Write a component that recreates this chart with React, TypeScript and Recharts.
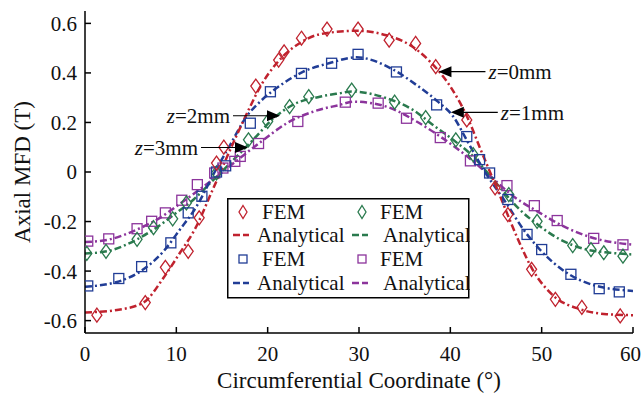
import React from 'react'
import { ComposedChart, Line, Scatter, XAxis, YAxis, Legend, ReferenceDot } from 'recharts'

type Pt = { x: number; y: number }

const xTicks = [0, 10, 20, 30, 40, 50, 60]
const topTicks = [10, 20, 30, 40, 50]
const yTicks = [-0.6, -0.4, -0.2, 0, 0.2, 0.4, 0.6]

// FEM samples
const femZ0: Pt[] = [
  { x: 1.3, y: -0.578 }, { x: 6.6, y: -0.527 }, { x: 8.8, y: -0.385 }, { x: 11.3, y: -0.32 },
  { x: 12.5, y: -0.185 }, { x: 14.4, y: 0.036 }, { x: 15.2, y: 0.1 }, { x: 18.7, y: 0.347 },
  { x: 21.2, y: 0.452 }, { x: 21.8, y: 0.485 }, { x: 23.7, y: 0.54 }, { x: 26.5, y: 0.577 },
  { x: 29.9, y: 0.577 }, { x: 33.3, y: 0.532 }, { x: 36.2, y: 0.519 }, { x: 38.4, y: 0.425 },
  { x: 41.8, y: 0.21 }, { x: 44.9, y: -0.064 }, { x: 46.3, y: -0.172 }, { x: 48.9, y: -0.393 },
  { x: 51.5, y: -0.514 }, { x: 54.4, y: -0.547 }, { x: 58.6, y: -0.581 },
]
const femZ1: Pt[] = [
  { x: 0.3, y: -0.46 }, { x: 3.7, y: -0.43 }, { x: 6.2, y: -0.382 }, { x: 9.4, y: -0.286 },
  { x: 11.3, y: -0.165 }, { x: 12.8, y: -0.098 }, { x: 14.4, y: 0.0 }, { x: 15.4, y: 0.025 },
  { x: 18.1, y: 0.197 }, { x: 20.3, y: 0.324 }, { x: 23.7, y: 0.398 }, { x: 27.0, y: 0.439 },
  { x: 29.9, y: 0.475 }, { x: 34.1, y: 0.404 }, { x: 38.5, y: 0.271 }, { x: 41.8, y: 0.143 },
  { x: 43.2, y: 0.05 }, { x: 44.3, y: -0.004 }, { x: 46.3, y: -0.111 }, { x: 48.4, y: -0.252 },
  { x: 50.0, y: -0.313 }, { x: 53.2, y: -0.413 }, { x: 56.3, y: -0.471 }, { x: 58.5, y: -0.484 },
]
const femZ2: Pt[] = [
  { x: 0.2, y: -0.329 }, { x: 2.3, y: -0.32 }, { x: 5.7, y: -0.272 }, { x: 7.5, y: -0.225 },
  { x: 9.6, y: -0.189 }, { x: 11.1, y: -0.125 }, { x: 14.4, y: -0.004 }, { x: 17.9, y: 0.13 },
  { x: 20.0, y: 0.204 }, { x: 22.4, y: 0.264 }, { x: 24.5, y: 0.304 }, { x: 29.2, y: 0.331 },
  { x: 33.9, y: 0.282 }, { x: 37.3, y: 0.22 }, { x: 40.6, y: 0.13 }, { x: 42.5, y: 0.07 },
  { x: 46.4, y: -0.091 }, { x: 49.5, y: -0.199 }, { x: 53.4, y: -0.297 }, { x: 55.4, y: -0.313 },
  { x: 56.8, y: -0.326 }, { x: 58.9, y: -0.34 },
]
const femZ3: Pt[] = [
  { x: 0.3, y: -0.279 }, { x: 2.6, y: -0.27 }, { x: 5.7, y: -0.229 }, { x: 7.3, y: -0.199 },
  { x: 8.8, y: -0.165 }, { x: 10.6, y: -0.114 }, { x: 12.3, y: -0.051 }, { x: 14.2, y: -0.004 },
  { x: 15.1, y: 0.016 }, { x: 16.4, y: 0.043 }, { x: 17.0, y: 0.063 }, { x: 19.0, y: 0.115 },
  { x: 23.3, y: 0.204 }, { x: 28.5, y: 0.282 }, { x: 32.1, y: 0.278 }, { x: 35.2, y: 0.217 },
  { x: 38.9, y: 0.139 }, { x: 42.2, y: 0.045 }, { x: 46.2, y: -0.055 }, { x: 49.2, y: -0.136 },
  { x: 51.7, y: -0.196 }, { x: 55.7, y: -0.268 }, { x: 58.9, y: -0.294 },
]

// analytical curves
const fitZ0: Pt[] = [
  { x: 0, y: -0.567 }, { x: 3.5, y: -0.557 }, { x: 6.4, y: -0.527 }, { x: 8.6, y: -0.427 },
  { x: 10.4, y: -0.326 }, { x: 12, y: -0.233 }, { x: 14, y: -0.07 }, { x: 15.9, y: 0.09 },
  { x: 17.9, y: 0.25 }, { x: 19.2, y: 0.345 }, { x: 21, y: 0.44 }, { x: 23.5, y: 0.52 },
  { x: 25.7, y: 0.556 }, { x: 29.7, y: 0.57 }, { x: 33, y: 0.552 }, { x: 35.6, y: 0.512 },
  { x: 37.8, y: 0.445 }, { x: 40, y: 0.345 }, { x: 42, y: 0.21 }, { x: 43.3, y: 0.092 },
  { x: 44.7, y: -0.031 }, { x: 45.6, y: -0.111 }, { x: 47.3, y: -0.263 }, { x: 49.1, y: -0.4 },
  { x: 51.3, y: -0.5 }, { x: 54.2, y: -0.554 }, { x: 57.1, y: -0.574 }, { x: 60, y: -0.578 },
]
const fitZ1: Pt[] = [
  { x: 0, y: -0.463 }, { x: 3.5, y: -0.444 }, { x: 6.4, y: -0.393 }, { x: 8.6, y: -0.32 },
  { x: 10.4, y: -0.232 }, { x: 12.2, y: -0.14 }, { x: 14.2, y: 0 }, { x: 15.9, y: 0.11 },
  { x: 17.7, y: 0.225 }, { x: 19.2, y: 0.285 }, { x: 21.4, y: 0.35 }, { x: 23.9, y: 0.405 },
  { x: 26.8, y: 0.44 }, { x: 29.7, y: 0.463 }, { x: 33.8, y: 0.412 }, { x: 36.3, y: 0.351 },
  { x: 38.6, y: 0.285 }, { x: 40.3, y: 0.225 }, { x: 42.0, y: 0.115 }, { x: 43.8, y: 0 },
  { x: 46.2, y: -0.13 }, { x: 48, y: -0.232 }, { x: 49.8, y: -0.313 }, { x: 52.7, y: -0.406 },
  { x: 56, y: -0.46 }, { x: 60, y: -0.48 },
]
const fitZ2: Pt[] = [
  { x: 0, y: -0.329 }, { x: 2.4, y: -0.32 }, { x: 5.7, y: -0.272 }, { x: 7.8, y: -0.225 },
  { x: 10, y: -0.165 }, { x: 11.9, y: -0.111 }, { x: 13.7, y: -0.045 }, { x: 16.6, y: 0.062 },
  { x: 18.4, y: 0.13 }, { x: 20.6, y: 0.215 }, { x: 22.8, y: 0.272 }, { x: 25.7, y: 0.304 },
  { x: 27.9, y: 0.318 }, { x: 29.2, y: 0.325 }, { x: 33, y: 0.298 }, { x: 35.9, y: 0.251 },
  { x: 38.1, y: 0.19 }, { x: 40.3, y: 0.13 }, { x: 42.5, y: 0.063 }, { x: 44.7, y: -0.031 },
  { x: 47.6, y: -0.152 }, { x: 49.8, y: -0.219 }, { x: 52, y: -0.272 }, { x: 54.6, y: -0.31 },
  { x: 57.5, y: -0.326 }, { x: 60, y: -0.333 },
]
const fitZ3: Pt[] = [
  { x: 0, y: -0.283 }, { x: 2.7, y: -0.272 }, { x: 5.7, y: -0.232 }, { x: 8.2, y: -0.185 },
  { x: 10.4, y: -0.128 }, { x: 12.2, y: -0.08 }, { x: 14.2, y: -0.025 }, { x: 15.9, y: 0.025 },
  { x: 19.2, y: 0.12 }, { x: 22.1, y: 0.197 }, { x: 25, y: 0.244 }, { x: 27.9, y: 0.271 },
  { x: 29.4, y: 0.284 }, { x: 33, y: 0.264 }, { x: 36.3, y: 0.204 }, { x: 38.9, y: 0.143 },
  { x: 41.4, y: 0.076 }, { x: 44, y: -0.004 }, { x: 46.9, y: -0.098 }, { x: 49.8, y: -0.165 },
  { x: 52.7, y: -0.225 }, { x: 56, y: -0.27 }, { x: 60, y: -0.293 },
]

// arrow annotations: tip position, label, side of the text
const notes = [
  { x: 38.7, y: 0.405, z: '0mm', side: 'right' },
  { x: 40.05, y: 0.241, z: '1mm', side: 'right' },
  { x: 21.35, y: 0.227, z: '2mm', side: 'left' },
  { x: 17.85, y: 0.099, z: '3mm', side: 'left' },
]

const RED = '#c0222e'
const BLUE = '#213d96'
const GREEN = '#2a7a4e'
const PURPLE = '#8c349c'
const FONT = 'Liberation Serif, Times New Roman, DejaVu Serif, serif'
const DASH = '7 3 2 3'

const diamond = (color: string, w = 5, h = 7) => (p: any) => (
  <path
    d={`M${p.cx},${p.cy - h} L${p.cx + w},${p.cy} L${p.cx},${p.cy + h} L${p.cx - w},${p.cy} Z`}
    fill="none" stroke={color} strokeWidth={1.3}
  />
)
const square = (color: string, s = 5) => (p: any) => (
  <rect x={p.cx - s} y={p.cy - s} width={s * 2} height={s * 2} fill="none" stroke={color} strokeWidth={1.3} />
)

const arrowNote = (z: string, side: string) => (p: any) => {
  const { cx, cy } = p
  const d = side === 'right' ? 1 : -1
  return (
    <g>
      <path d={`M${cx},${cy} L${cx + d * 13},${cy - 5.5} L${cx + d * 13},${cy + 5.5} Z`} fill="#000" />
      <line x1={cx + d * 12} y1={cy} x2={cx + d * 47} y2={cy} stroke="#000" strokeWidth={1.2} />
      <text x={cx + d * 50} y={cy} dy="0.35em" textAnchor={side === 'right' ? 'start' : 'end'}
        style={{ fontFamily: FONT }} fontSize={21} fill="#111">
        <tspan fontStyle="italic">z</tspan>={z}
      </text>
    </g>
  )
}

const legendRows = [
  { col: 0, row: 0, color: RED, kind: 'diamond', text: 'FEM' },
  { col: 0, row: 1, color: RED, kind: 'line', text: 'Analytical' },
  { col: 0, row: 2, color: BLUE, kind: 'square', text: 'FEM' },
  { col: 0, row: 3, color: BLUE, kind: 'line', text: 'Analytical' },
  { col: 1, row: 0, color: GREEN, kind: 'diamond', text: 'FEM' },
  { col: 1, row: 1, color: GREEN, kind: 'line', text: 'Analytical' },
  { col: 1, row: 2, color: PURPLE, kind: 'square', text: 'FEM' },
  { col: 1, row: 3, color: PURPLE, kind: 'line', text: 'Analytical' },
]

const renderLegend = () => {
  const rowY = [14, 37, 61, 85]
  const colX = [16, 135]
  return (
    <svg width={243} height={101} style={{ display: 'block' }}>
      <rect x={0.75} y={0.75} width={241} height={99} fill="#fff" stroke="#000" strokeWidth={1.5} />
      {legendRows.map((r, i) => {
        const cx = colX[r.col]
        const cy = rowY[r.row]
        let mark
        if (r.kind === 'diamond') mark = diamond(r.color, 4, 6.5)({ cx, cy })
        else if (r.kind === 'square') mark = square(r.color, 4)({ cx, cy })
        else mark = <line x1={cx - 10} y1={cy} x2={cx + 8} y2={cy} stroke={r.color} strokeWidth={2.5} strokeDasharray="7 3 6 3" />
        const tx = r.kind === 'line' ? (r.col === 0 ? 30 : 156) : (r.col === 0 ? 35 : 153)
        return (
          <g key={i}>
            {mark}
            <text x={tx} y={cy} dy="0.35em" style={{ fontFamily: FONT }} fontSize={21} fill="#111">{r.text}</text>
          </g>
        )
      })}
    </svg>
  )
}

export default function App() {
  const tickStyle = { fontFamily: FONT, fontSize: 21, fill: '#111', style: { fontFamily: FONT } }
  return (
    <div style={{ position: 'absolute', left: 0, top: 0, width: 641, height: 393, background: '#fff', fontFamily: FONT }}>
      <ComposedChart width={641} height={393} margin={{ top: 11, right: 8, bottom: 30, left: 25 }} style={{ fontFamily: FONT }}>
        <XAxis
          dataKey="x" type="number" domain={[0, 60]} ticks={xTicks} allowDataOverflow
          stroke="#000" strokeWidth={1.5} tickSize={-6} tickMargin={19} tick={tickStyle} height={30}
          label={{
            content: (p: any) => (
              <text x={p.viewBox.x + p.viewBox.width / 2} y={p.viewBox.y + 47} dy="0.35em"
                textAnchor="middle" style={{ fontFamily: FONT }} fontSize={23} fill="#111">
                Circumferential Coordinate (°)
              </text>
            ),
          }}
        />
        <XAxis xAxisId="top" orientation="top" dataKey="x" type="number" domain={[0, 60]} ticks={topTicks}
          allowDataOverflow stroke="#000" strokeWidth={1.5} tickSize={-6} tick={false} height={0} />
        <YAxis
          dataKey="y" type="number" domain={[-0.65, 0.65]} ticks={yTicks} allowDataOverflow
          stroke="#000" strokeWidth={1.5} tickSize={-6} tickMargin={14} tick={tickStyle} width={60}
          label={{
            content: (p: any) => {
              const x = p.viewBox.x - 3
              const y = p.viewBox.y + p.viewBox.height / 2
              return (
                <text x={x} y={y} dy="0.35em" transform={`rotate(-90, ${x}, ${y})`}
                  textAnchor="middle" style={{ fontFamily: FONT }} fontSize={23} fill="#111">
                  Axial MFD (T)
                </text>
              )
            },
          }}
        />
        <YAxis yAxisId="right" orientation="right" type="number" domain={[-0.65, 0.65]} ticks={yTicks}
          allowDataOverflow stroke="#000" strokeWidth={1.5} tickSize={-6} tick={false} width={0} />

        <Line data={fitZ3} dataKey="y" type="monotone" stroke={PURPLE} strokeWidth={2.5} strokeDasharray={DASH} dot={false} isAnimationActive={false} />
        <Line data={fitZ2} dataKey="y" type="monotone" stroke={GREEN} strokeWidth={2.5} strokeDasharray={DASH} dot={false} isAnimationActive={false} />
        <Line data={fitZ1} dataKey="y" type="monotone" stroke={BLUE} strokeWidth={2.5} strokeDasharray={DASH} dot={false} isAnimationActive={false} />
        <Line data={fitZ0} dataKey="y" type="monotone" stroke={RED} strokeWidth={2.5} strokeDasharray={DASH} dot={false} isAnimationActive={false} />

        <Scatter data={femZ3} shape={square(PURPLE)} isAnimationActive={false} />
        <Scatter data={femZ2} shape={diamond(GREEN)} isAnimationActive={false} />
        <Scatter data={femZ1} shape={square(BLUE)} isAnimationActive={false} />
        <Scatter data={femZ0} shape={diamond(RED)} isAnimationActive={false} />

        {notes.map((n) => (
          <ReferenceDot key={n.z} x={n.x} y={n.y} r={0} shape={arrowNote(n.z, n.side)} />
        ))}

        <Legend
          layout="vertical" align="center" verticalAlign="middle" content={renderLegend}
          wrapperStyle={{ left: 227, top: 198, width: 243, height: 101 }}
        />
      </ComposedChart>
    </div>
  )
}
